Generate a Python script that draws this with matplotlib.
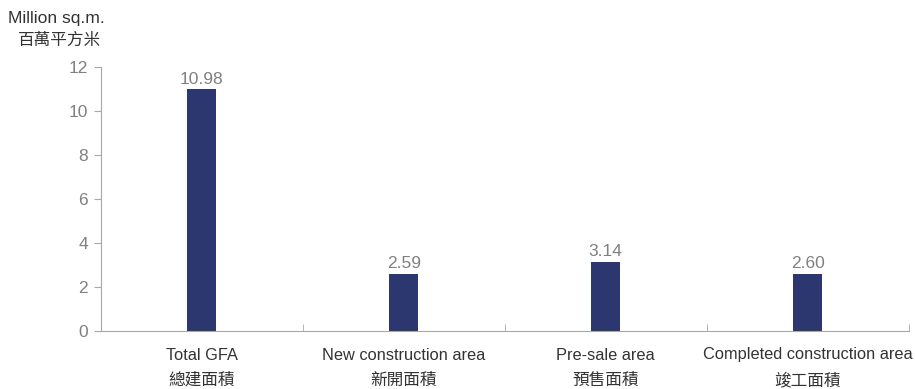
import matplotlib
matplotlib.use('Agg')
import matplotlib.pyplot as plt
import matplotlib.transforms as mtransforms
import numpy as np

plt.rcParams['font.family'] = ['Liberation Sans', 'Noto Sans CJK TC', 'DejaVu Sans']

# Data
categories_en = ['Total GFA', 'New construction area', 'Pre-sale area', 'Completed construction area']
categories_zh = ['總建面積', '新開面積', '預售面積', '竣工面積']
values = [10.98, 2.59, 3.14, 2.60]
yticks = [0, 2, 4, 6, 8, 10, 12]

bar_color = '#2b376e'
text_color = '#808080'
dark_text = '#333333'
spine_color = '#a8a8a8'

fig = plt.figure(figsize=(9.15, 3.89), dpi=100)
ax = fig.add_axes([0.110, 0.149, 0.883, 0.679])

x = np.arange(len(values))
ax.bar(x, values, width=0.145, color=bar_color, zorder=2)

for xi, v in zip(x, values):
    ax.text(xi, v + 0.12, '%.2f' % v, ha='center', va='bottom',
            fontsize=12.5, color=text_color)

ax.set_xlim(-0.5, len(values) - 0.5)
ax.set_ylim(0, 12)
ax.set_yticks(yticks)
ax.set_yticklabels([str(t) for t in yticks], fontsize=12.5, color=text_color)

# category labels, two lines
ax.set_xticks(x)
ax.set_xticklabels([])
ax.tick_params(axis='x', length=0)
trans = mtransforms.blended_transform_factory(ax.transData, fig.transFigure)
for xi, en, zh in zip(x, categories_en, categories_zh):
    ax.text(xi, 1 - 355 / 389, en, transform=trans, ha='center', va='center',
            fontsize=11.8, color=dark_text)
    ax.text(xi, 1 - 380 / 389, zh, transform=trans, ha='center', va='center',
            fontsize=12, color=dark_text)
ax.set_xticks(np.arange(len(values)) + 0.5, minor=True)
ax.tick_params(axis='x', which='minor', direction='in', length=5, color=spine_color)
ax.tick_params(axis='y', length=5, color=spine_color, pad=4)

for s in ['top', 'right']:
    ax.spines[s].set_visible(False)
ax.spines['left'].set_color(spine_color)
ax.spines['bottom'].set_color(spine_color)

fig.text(0.009, 1 - 18 / 389, 'Million sq.m.', fontsize=12.6, color=dark_text, ha='left', va='center')
fig.text(0.110, 1 - 40 / 389, '百萬平方米', fontsize=12, color=dark_text, ha='right', va='center')

fig.savefig('out.png', dpi=100)
